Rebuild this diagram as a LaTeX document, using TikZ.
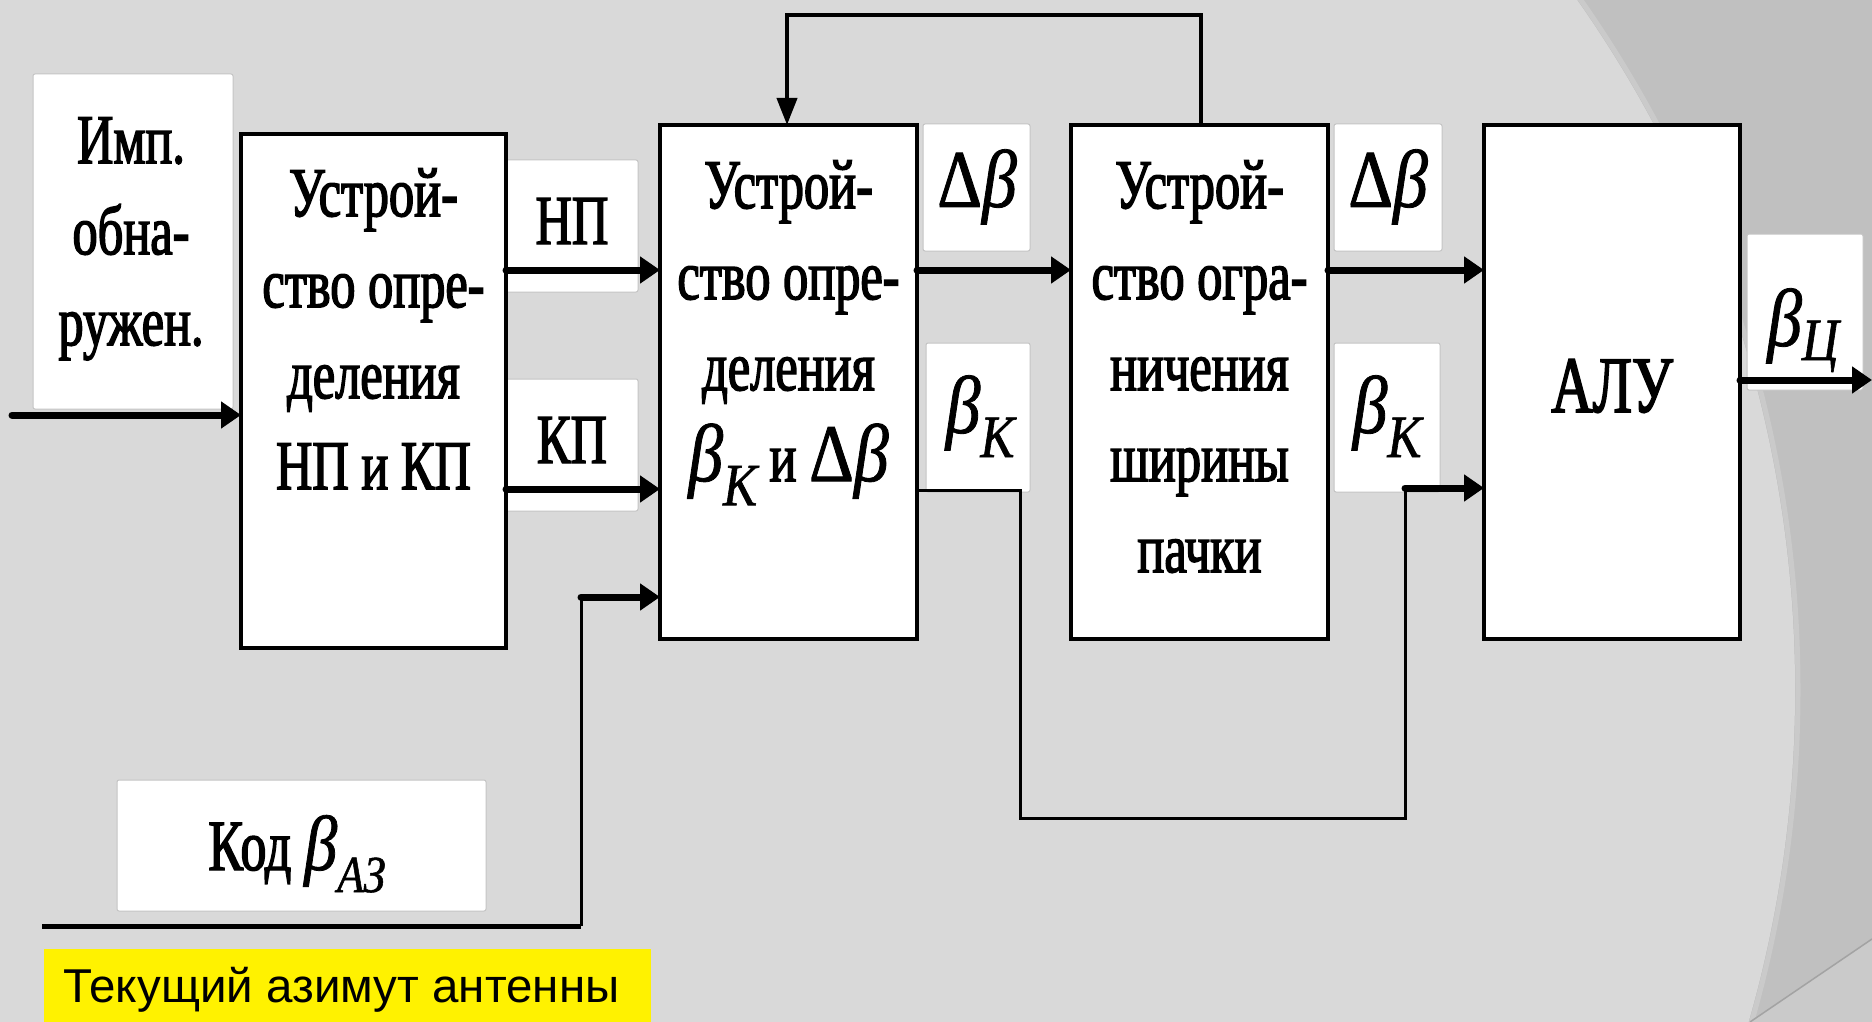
\documentclass[tikz,border=0pt]{standalone}
\usepackage{fontspec}
\usetikzlibrary{arrows.meta}
\newfontfamily\tnr[FakeStretch=0.72,FakeBold=2]{Liberation Serif}
\newfontfamily\tnrm[FakeStretch=0.85,FakeBold=1]{Liberation Serif}
\newfontfamily\ars{Liberation Sans}
\definecolor{bg}{HTML}{D9D9D9}
\definecolor{bgdark}{HTML}{C0C0C0}
\definecolor{bgedge}{HTML}{CACACA}
\definecolor{lblline}{HTML}{C4C4C4}
\newcommand{\GB}[1][82]{{\tnrm\fontsize{#1}{#1}\selectfont\itshape β}}
\newcommand{\GD}{{\tnrm\fontsize{82}{82}\selectfont Δ}}
\newcommand{\SUB}[2][-24pt]{\raisebox{#1}{\tnrm\fontsize{60}{60}\selectfont\itshape #2}}
\tikzset{
  blk/.style={draw=black, line width=4pt, fill=white, inner sep=0pt, outer sep=0pt, anchor=north west},
  lbl/.style={draw=lblline, line width=1pt, fill=white, rounded corners=2pt, inner sep=0pt, outer sep=0pt, anchor=north west},
  btxt/.style={inner sep=0pt, align=center, anchor=north, font=\tnr\fontsize{70}{91}\selectfont},
  ltxt/.style={inner sep=0pt, anchor=base, font=\tnr\fontsize{70}{70}\selectfont},
  thk/.style={line width=7pt, line cap=round, -{Triangle[length=20pt,width=26pt]}},
  thn/.style={line width=3pt},
  fbk/.style={line width=4pt, -{Triangle[length=27pt,width=20pt]}}
}
\begin{document}
\begin{tikzpicture}[x=1pt,y=-1pt]
\useasboundingbox (0,0) rectangle (1872,1022);
% background
\fill[bgdark] (0,0) rectangle (1872,1022);
\begin{scope}
  \clip (0,0) rectangle (1872,1022);
  \fill[bg] (594,690) circle[radius=1201];
  \draw[bgedge, line width=5pt] (594,690) circle[radius=1204];
  \fill[bgedge] (1750,1022) -- (1872,939) -- (1872,1022) -- cycle;
  \draw[bgdark!85!black, line width=1.5pt] (1750,1022) -- (1872,939);
\end{scope}
% label boxes
\node[lbl, minimum width=200pt, minimum height=335pt] (imp) at (33,74) {};
\node[lbl, minimum width=133pt, minimum height=132pt] (lnp) at (505,160) {};
\node[lbl, minimum width=133pt, minimum height=132pt] (lkp) at (505,379) {};
\node[lbl, minimum width=107pt, minimum height=127pt] (ld1) at (923,124) {};
\node[lbl, minimum width=104pt, minimum height=149pt] (lk1) at (926,343) {};
\node[lbl, minimum width=108pt, minimum height=127pt] (ld2) at (1334,124) {};
\node[lbl, minimum width=106pt, minimum height=149pt] (lk2) at (1334,343) {};
\node[lbl, minimum width=116pt, minimum height=156pt] (lc) at (1747,234) {};
\node[lbl, minimum width=369pt, minimum height=131pt] (lkod) at (117,780) {};
\node[fill=yellow, inner sep=0pt, outer sep=0pt, anchor=north west, minimum width=607pt, minimum height=73pt] (ybox) at (44,949) {};
% blocks
\node[blk, minimum width=265pt, minimum height=514pt] (b1) at (241,134) {};
\node[blk, minimum width=257pt, minimum height=514pt] (b2) at (660,125) {};
\node[blk, minimum width=257pt, minimum height=514pt] (b3) at (1071,125) {};
\node[blk, minimum width=256pt, minimum height=514pt] (alu) at (1484,125) {};
% texts
\node[btxt] (timp) at (131,99) {\rule{0pt}{64pt}Имп.\\обна-\\ружен.};
\node[btxt] (tb1) at (373.5,152) {\rule{0pt}{64pt}Устрой-\\ство опре-\\деления\\НП и КП};
\node[btxt] (tb2) at (788.5,144) {\rule{0pt}{64pt}Устрой-\\ство опре-\\деления\\\GB\SUB{К} и \GD\GB};
\node[btxt] (tb3) at (1199.5,144) {\rule{0pt}{64pt}Устрой-\\ство огра-\\ничения\\ширины\\пачки};
\node[inner sep=0pt, anchor=base, font=\tnr\fontsize{80}{80}\selectfont] (talu) at (1612,412) {АЛУ};
\node[ltxt] (tnp) at (572,244) {НП};
\node[ltxt] (tkp) at (572,463) {КП};
\node[ltxt] (td1) at (977,207) {\GD\GB};
\node[ltxt] (td2) at (1388,207) {\GD\GB};
\node[ltxt] (tk1) at (980,433) {\GB\SUB{К}};
\node[ltxt] (tk2) at (1387,433) {\GB\SUB{К}};
\node[ltxt] (tc) at (1803,346) {\GB\SUB[-14pt]{Ц}};
\node[ltxt, font=\tnr\fontsize{72}{72}\selectfont] (tkod) at (297,870) {Код \GB[78]\SUB[-22pt]{{\fontsize{52}{52}\selectfont АЗ}}};
\node[inner sep=0pt, anchor=base west, font=\ars\fontsize{47.5}{47.5}\selectfont] (ty) at (63,1002) {Текущий азимут антенны};
% connector coordinates
\coordinate (in1) at (12,415);
\coordinate (yNP) at (0,270);
\coordinate (yKP) at (0,489);
\coordinate (yOut) at (0,380);
\coordinate (out) at (1872,380);
\coordinate (fbR) at (1201,15);
\coordinate (fbL) at (787,15);
\coordinate (k1) at (1020,490);
\coordinate (k2) at (1020,818);
\coordinate (k3) at (1405,818);
\coordinate (k4) at (1405,488);
\coordinate (c0) at (42,926);
\coordinate (c1) at (581,926);
\coordinate (c2) at (581,597);
% connectors
\draw[thk] (in1) -- (b1.west |- in1);
\draw[thk] (b1.east |- yNP) -- (b2.west |- yNP);
\draw[thk] (b1.east |- yKP) -- (b2.west |- yKP);
\draw[thk] (b2.east |- yNP) -- (b3.west |- yNP);
\draw[thk] (b3.east |- yNP) -- (alu.west |- yNP);
\draw[thk] (alu.east |- yOut) -- (out);
\draw[fbk] (b3.north -| fbR) -- (fbR) -- (fbL) -- (b2.north -| fbL);
\draw[thn] (b2.east |- k1) -- (k1) -- (k2) -- (k3) -- (k4);
\draw[thk] (k4) -- (alu.west |- k4);
\draw[line width=5pt] (c0) -- (c1);
\draw[thn] (c1) -- (c2);
\draw[thk] (c2) -- (b2.west |- c2);
\end{tikzpicture}
\end{document}
